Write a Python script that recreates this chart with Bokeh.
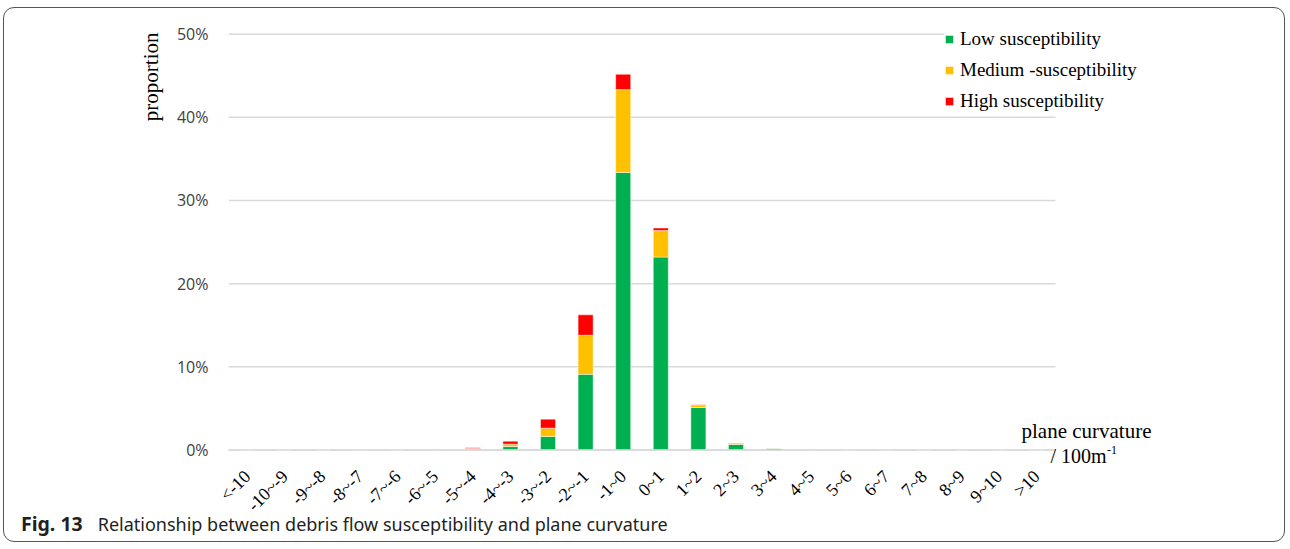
import math
from bokeh.plotting import figure
from bokeh.layouts import column
from bokeh.models import (ColumnDataSource, Range1d, FixedTicker, Label, Legend,
                          LegendItem, Title, Div)
from bokeh.embed import file_html
from bokeh.resources import INLINE

categories = ["<-10", "-10~-9", "-9~-8", "-8~-7", "-7~-6", "-6~-5", "-5~-4",
              "-4~-3", "-3~-2", "-2~-1", "-1~0", "0~1", "1~2", "2~3", "3~4",
              "4~5", "5~6", "6~7", "7~8", "8~9", "9~10", ">10"]
low = [0, 0, 0, 0, 0, 0.02, 0.10, 0.42, 1.63, 9.10, 33.37, 23.20, 5.11, 0.67,
       0.20, 0.02, 0, 0, 0, 0, 0, 0]
medium = [0, 0, 0, 0, 0, 0.03, 0.08, 0.28, 1.00, 4.70, 9.96, 3.18, 0.32, 0.10,
          0.03, 0.03, 0, 0, 0, 0, 0, 0]
high = [0, 0, 0, 0, 0, 0.05, 0.08, 0.36, 1.08, 2.45, 1.84, 0.31, 0.03, 0.05,
        0.02, 0.05, 0, 0, 0, 0, 0, 0]
series_names = ["Low susceptibility", "Medium -susceptibility", "High susceptibility"]
series_colors = ["#00B050", "#FFC000", "#FF0000"]
y_ticks = [0, 10, 20, 30, 40, 50]
y_tick_labels = ["0%", "10%", "20%", "30%", "40%", "50%"]

n = len(categories)
idx = list(range(n))
src = ColumnDataSource(dict(idx=idx, cat=categories, low=low, medium=medium, high=high))

W, H = 1280, 531
p = figure(x_range=Range1d(-0.5, n + 2.4), y_range=Range1d(-2.1, 52),
           width=W, height=H, output_backend="svg", toolbar_location=None,
           min_border_left=224, min_border_right=120,
           min_border_top=9, min_border_bottom=72)
p.border_fill_color = None
p.background_fill_color = None
p.outline_line_color = None
p.xgrid.grid_line_color = None
p.ygrid.grid_line_color = None

# horizontal gridlines limited to the category span
grid_src = ColumnDataSource(dict(y=y_ticks, x0=[-0.5] * len(y_ticks),
                                 x1=[n - 0.5] * len(y_ticks)))
p.segment(x0="x0", x1="x1", y0="y", y1="y", source=grid_src,
          line_color="#D9D9D9", line_width=1.5, level="underlay")

renderers = p.vbar_stack(["low", "medium", "high"], x="idx", width=0.4,
                         fill_color=series_colors, line_color="white",
                         line_alpha=0.45, line_width=1, source=src)

# category axis baseline at 0%
p.segment(x0=[-0.5], x1=[n - 0.5], y0=[y_ticks[0]], y1=[y_ticks[0]],
          line_color="#D9D9D9", line_width=1.5, level="guide")

p.yaxis.ticker = FixedTicker(ticks=y_ticks)
p.yaxis.major_label_overrides = {t: l for t, l in zip(y_ticks, y_tick_labels)}
p.yaxis.axis_line_color = None
p.yaxis.major_tick_line_color = None
p.yaxis.minor_tick_line_color = None
p.yaxis.major_tick_out = 0
p.yaxis.major_label_standoff = 20
p.yaxis.major_label_text_font = "Open Sans"
p.yaxis.major_label_text_font_size = "16px"
p.yaxis.major_label_text_color = "#404040"

p.xaxis.ticker = FixedTicker(ticks=idx)
p.xaxis.major_label_overrides = {i: c for i, c in zip(idx, categories)}
p.xaxis.bounds = (-0.5, n - 0.5)
p.xaxis.axis_line_color = None
p.xaxis.major_tick_line_color = None
p.xaxis.minor_tick_line_color = None
p.xaxis.major_tick_out = 0
p.xaxis.major_label_orientation = math.pi / 4
p.xaxis.major_label_standoff = 6
p.xaxis.major_label_text_font = "Liberation Serif"
p.xaxis.major_label_text_font_size = "18px"
p.xaxis.major_label_text_color = "#000000"

# y-axis title, top aligned
p.add_layout(Title(text="proportion", align="right", text_font="Liberation Serif",
                   text_font_size="21px", text_font_style="normal",
                   text_color="#000000", standoff=21, offset=15), "left")

legend = Legend(items=[LegendItem(label=s, renderers=[r])
                       for s, r in zip(series_names, renderers)],
                location=(716, 355), margin=0, padding=0,
                border_line_color=None, background_fill_color="white",
                background_fill_alpha=1,
                glyph_width=10, glyph_height=10, label_height=20,
                spacing=9, label_standoff=6,
                label_text_font="Liberation Serif",
                label_text_font_size="19px", label_text_color="#000000")
p.add_layout(legend)

def lab(text, x, y, size, align="left"):
    p.add_layout(Label(x=x, y=y, x_units="canvas", y_units="canvas", text=text,
                       text_font="Liberation Serif", text_font_size=size,
                       text_align=align, text_baseline="alphabetic",
                       text_color="#000000"))

lab("plane curvature", 1082, 422.5, "21px", align="center")
lab("/ 100m", 1102, 447.5, "20px", align="right")
lab("-1", 1102.5, 441, "12px")

caption = Div(
    text=('<div style="position:relative; top:-2px; padding-left:17px;'
          ' line-height:18px; white-space:nowrap;'
          ' font-family:\'Noto Sans\'; color:#231f20;">'
          '<span style="font-weight:bold; font-size:19.5px;">Fig. 13</span>'
          '<span style="font-size:18px; margin-left:15px;">'
          'Relationship between debris flow susceptibility and plane curvature'
          '</span></div>'),
    width=W, height=24, margin=(-22, 0, 0, 0))

layout = column(p, caption, spacing=0)
layout.styles = {"border": "1.5px solid #555555", "border-radius": "11px",
                 "margin-left": "3px", "margin-top": "7px"}

open("out.html", "w").write(file_html(layout, INLINE))
